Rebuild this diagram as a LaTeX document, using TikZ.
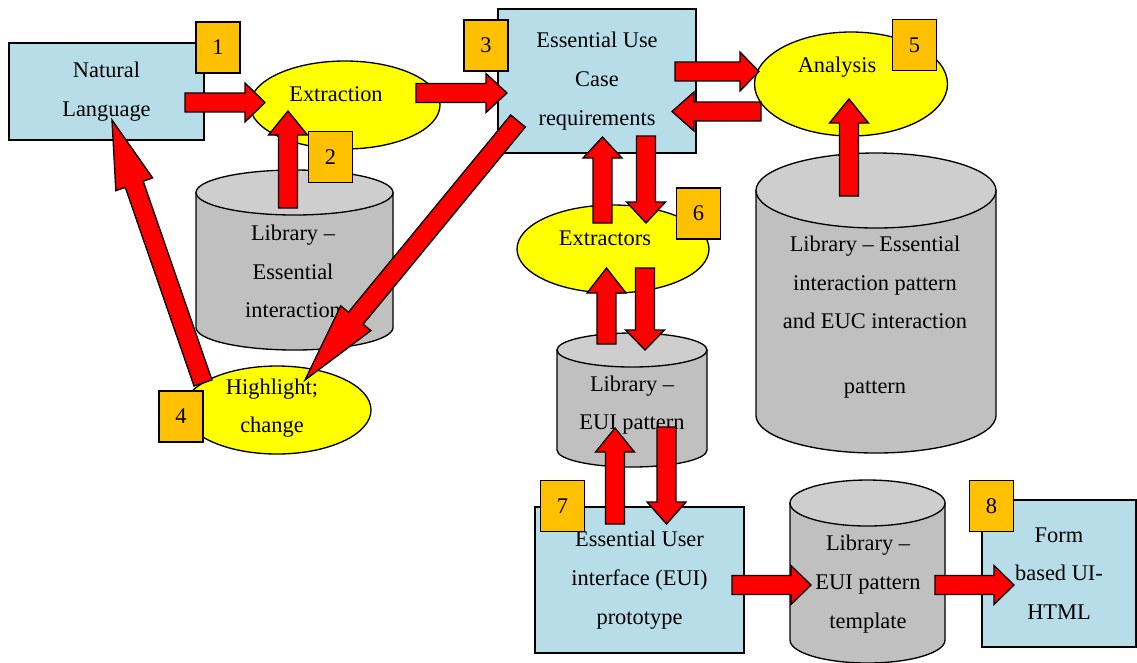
\documentclass[tikz,border=0pt]{standalone}
\usepackage{fontspec}
\setmainfont{Liberation Serif}
\usetikzlibrary{shapes.geometric,calc}
\definecolor{boxblue}{RGB}{183,221,232}
\definecolor{ovalyellow}{RGB}{255,255,0}
\definecolor{libgray}{RGB}{192,192,192}
\definecolor{libtopgray}{RGB}{206,206,206}
\definecolor{badgeorange}{RGB}{255,192,0}
\tikzset{
  every node/.style={font=\fontsize{16.8}{29}\selectfont, align=center},
  usecase/.style={draw, fill=boxblue, inner sep=0pt},
  oval/.style={draw, fill=ovalyellow, ellipse, inner sep=0pt},
  badge/.style={draw, fill=badgeorange, minimum width=33pt, minimum height=38.25pt, inner sep=0pt},
  libbody/.style={draw, fill=libgray},
  libtop/.style={draw, fill=libtopgray},
  redblock/.style={draw, fill=red, line join=miter},
}
\begin{document}
\begin{tikzpicture}[x=0.75pt,y=-0.75pt,line width=1pt]
  \def\library(#1)#2#3#4{% 
    \begin{scope}[shift={(#1)}]
    \filldraw[libbody] (-#2,0) -- (-#2,#3) arc (180:0:#2 and #4) -- (#2,0) -- cycle;
    \filldraw[libtop] (0,0) ellipse (#2 and #4);
  \end{scope}
  }
  \def\redarrow(#1)(#2)#3{% 
    \coordinate (hb) at ($(#2)!#3*0.75pt!(#1)$);
    \filldraw[redblock] ($(#1)!7.1pt!90:(#2)$) -- ($(hb)!7.1pt!90:(#2)$)
      -- ($(hb)!14.6pt!90:(#2)$) -- (#2) -- ($(hb)!14.6pt!-90:(#2)$)
      -- ($(hb)!7.1pt!-90:(#2)$) -- ($(#1)!7.1pt!-90:(#2)$) -- cycle;
  }

  \useasboundingbox (0,0) rectangle (1137,662);

  \node[usecase, minimum width=146.25pt, minimum height=72.75pt] (natural) at (106.5,91.5) {Natural\\Language};
  \node[usecase, minimum width=148.5pt, minimum height=108pt] (usecase) at (597,81) {Essential Use\\Case\\requirements};
  \node[usecase, minimum width=156.75pt, minimum height=109.5pt] (eui) at (639.5,580) {Essential User\\interface (EUI)\\prototype};
  \node[usecase, minimum width=115.5pt, minimum height=110.25pt] (form) at (1059,573.5) {Form\\based UI-\\HTML};

  \node[oval, minimum width=142.5pt, minimum height=66pt] (extraction) at (345,105) {};
  \node (extraction-t) at (336,94) {Extraction};
  \node[oval, minimum width=144.75pt, minimum height=78pt] (analysis) at (851,84) {};
  \node (analysis-t) at (837,67) {Analysis};
  \node[oval, minimum width=144pt, minimum height=66pt] (extractors) at (613,249) {};
  \node (extractors-t) at (605,238) {Extractors};
  \node[oval, minimum width=141pt, minimum height=66pt] (highlight) at (277,410) {};
  \node (highlight-t) at (272,408) {Highlight;\\change};

  \library(294.5,192.5){98.5}{135}{22.5}
  \node (lib-essential) at (293,271.5) {Library –\\Essential\\interaction};
  \library(876,190.5){120}{225}{37.5}
  \node (lib-pattern) at (875,317) {Library – Essential\\interaction pattern\\and EUC interaction\\[19.5pt]pattern};
  \library(632,350){75}{100}{17}
  \node (lib-eui) at (632,405) {Library –\\EUI pattern};
  \library(867.5,503){77.5}{137}{23}
  \node (lib-template) at (868,584) {Library –\\EUI pattern\\template};

  % arrow ends
  \coordinate (nl-out) at (185,102.5); \coordinate (ex-in) at (265,102.5);
  \coordinate (ex-out) at (416,93); \coordinate (uc-in) at (507,93);
  \coordinate (le-out) at (288,208); \coordinate (ex-lib) at (288,111);
  \coordinate (hl-out) at (203,383); \coordinate (nl-in) at (112,120);
  \coordinate (uc-hl) at (518,121); \coordinate (hl-in) at (305,380);
  \coordinate (uc-an) at (675,71.5); \coordinate (an-in) at (759,71.5);
  \coordinate (an-out) at (761,111.5); \coordinate (uc-back) at (672,111.5);
  \coordinate (lp-out) at (849,196); \coordinate (an-lib) at (849,99);
  \coordinate (xt-up) at (602.5,223); \coordinate (uc-xt) at (602.5,137);
  \coordinate (uc-down) at (646,136); \coordinate (xt-in) at (646,223);
  \coordinate (lu-up) at (606.5,344); \coordinate (xt-lib) at (606.5,268);
  \coordinate (xt-down) at (645,268); \coordinate (lu-in) at (645,350);
  \coordinate (eui-up) at (615,524); \coordinate (lu-eui) at (615,428);
  \coordinate (lu-down) at (666.5,427); \coordinate (eui-in) at (666.5,524);
  \coordinate (eui-out) at (732,585); \coordinate (lt-in) at (811,585);
  \coordinate (lt-out) at (935,585); \coordinate (form-in) at (1014,585);

  \redarrow(nl-out)(ex-in){20}
  \redarrow(ex-out)(uc-in){21}
  \redarrow(le-out)(ex-lib){24}
  \redarrow(hl-out)(nl-in){68}
  \redarrow(uc-hl)(hl-in){80}
  \redarrow(uc-an)(an-in){19}
  \redarrow(an-out)(uc-back){22}
  \redarrow(lp-out)(an-lib){24}
  \redarrow(xt-up)(uc-xt){21}
  \redarrow(uc-down)(xt-in){21}
  \redarrow(lu-up)(xt-lib){25}
  \redarrow(xt-down)(lu-in){20}
  \redarrow(eui-up)(lu-eui){24}
  \redarrow(lu-down)(eui-in){22}
  \redarrow(eui-out)(lt-in){20}
  \redarrow(lt-out)(form-in){20}

  \node[badge] (step1) at (218,47.5) {1};
  \node[badge] (step2) at (330.5,157) {2};
  \node[badge] (step3) at (486,45.5) {3};
  \node[badge] (step4) at (181,416.5) {4};
  \node[badge] (step5) at (914.5,45) {5};
  \node[badge] (step6) at (698.5,213.5) {6};
  \node[badge] (step7) at (562.5,506) {7};
  \node[badge] (step8) at (991.5,506) {8};

\end{tikzpicture}
\end{document}
